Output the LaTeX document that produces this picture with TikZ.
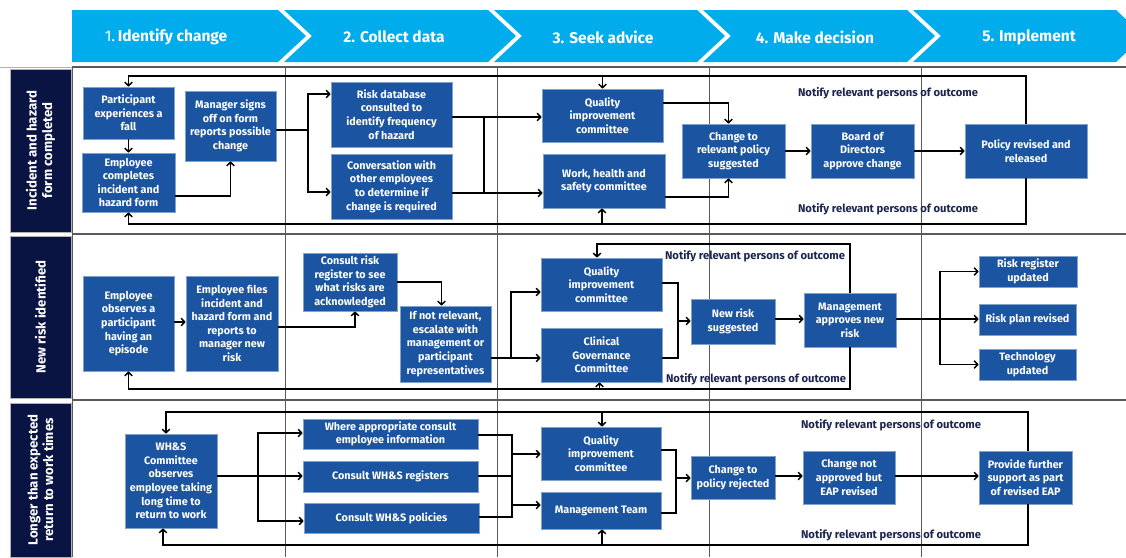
\documentclass[tikz,border=0pt]{standalone}
\usepackage{fontspec}
\setmainfont{Fira Sans}
\usetikzlibrary{arrows.meta}

\definecolor{hdrcyan}{RGB}{0,172,236}
\definecolor{lanenavy}{RGB}{10,20,66}
\definecolor{boxblue}{RGB}{27,84,160}
\definecolor{notecol}{RGB}{28,36,80}
\definecolor{gridgray}{RGB}{90,90,90}

\tikzset{
  proc/.style 2 args={fill=boxblue, draw=boxblue!55!white, line width=0.6pt,
    text=white, align=center, inner sep=1pt,
    font=\bfseries\fontsize{10.8}{13.6}\selectfont,
    minimum width=#1, minimum height=#2},
  note/.style={text=notecol, font=\bfseries\fontsize{11.2}{13}\selectfont, inner sep=0pt},
  hdrtext/.style={text=white, font=\bfseries\fontsize{15.5}{17}\selectfont, inner sep=0pt},
  lanebox/.style={fill=lanenavy, draw=gray!60, line width=0.6pt, text=white, rotate=90,
    align=center, font=\bfseries\fontsize{13.2}{15.5}\selectfont, minimum height=61pt},
  link/.style={line width=1.5pt, black},
  arr/.style={link, -{Straight Barb[length=3.5pt,width=7.5pt]}},
  gridline/.style={gridgray, line width=0.8pt},
  lanesep/.style={gridgray, line width=1.6pt},
}

\begin{document}
\begin{tikzpicture}[x=1pt,y=-1pt]
\useasboundingbox (0,0) rectangle (1126,557);

% ---------- phase chevrons ----------
\begin{scope}
\clip (0,0) rectangle (1126,557);
\fill[hdrcyan] (72,10) -- (278,10) -- (306,36) -- (278,62) -- (72,62) -- cycle;
\fill[hdrcyan] (284,10) -- (488,10) -- (516,36) -- (488,62) -- (284,62) -- (312,36) -- cycle;
\fill[hdrcyan] (494,10) -- (697,10) -- (725,36) -- (697,62) -- (494,62) -- (522,36) -- cycle;
\fill[hdrcyan] (703,10) -- (907,10) -- (935,36) -- (907,62) -- (703,62) -- (731,36) -- cycle;
\fill[hdrcyan] (913,10) -- (1116,10) -- (1144,36) -- (1116,62) -- (913,62) -- (941,36) -- cycle;
\end{scope}
\node[hdrtext] (ph1) at (166,37) {\mdseries 1.\,\bfseries Identify change};
\node[hdrtext] (ph2) at (394,37) {2. Collect data};
\node[hdrtext] (ph3) at (603,37) {3. Seek advice};
\node[hdrtext] (ph4) at (815,37) {4. Make decision};
\node[hdrtext] (ph5) at (1029,37) {5. Implement};

% ---------- swimlane grid ----------
\draw[gray!60, line width=1pt] (0,67) -- (72,67);
\draw[lanesep] (72,67) -- (1126,67);
\draw[lanesep] (72,234) -- (1126,234);
\draw[lanesep] (72,400) -- (1126,400);
\draw[gridline] (72,67) -- (72,557);
\foreach \cx in {285,497,709,921} \draw[gridline] (\cx,67) -- (\cx,557);

\node[lanebox, minimum width=163pt] (lane1) at (40.5,150.5) {Incident and hazard\\form completed};
\node[lanebox, minimum width=162pt] (lane2) at (40.5,317) {New risk identified};
\node[lanebox, minimum width=154pt] (lane3) at (40.5,480) {Longer than expected\\return to work times};

% ---------- lane 1: incident and hazard form ----------
\node[proc={91pt}{52pt}] (p1) at (128.5,113) {Participant\\experiences a\\fall};
\node[proc={93pt}{59pt}] (e1) at (128.5,182.5) {Employee\\completes\\incident and\\hazard form};
\node[proc={91pt}{70pt}] (m1) at (230.5,126) {Manager signs\\off on form\\reports possible\\change};
\node[proc={121pt}{65pt}] (r1) at (391.5,114.5) {Risk database\\consulted to\\identify frequency\\of hazard};
\node[proc={121pt}{65pt}] (c1) at (391.5,186.5) {Conversation with\\other employees\\to determine if\\change is required};
\node[proc={121pt}{53pt}] (q1) at (602.5,115.5) {Quality\\improvement\\committee};
\node[proc={122pt}{54pt}] (w1) at (604,181) {Work, health and\\safety committee};
\node[proc={103pt}{54pt}] (s1) at (733.5,151) {Change to\\relevant policy\\suggested};
\node[proc={103pt}{54pt}] (b1) at (862.5,151) {Board of\\Directors\\approve change};
\node[proc={122pt}{54pt}] (pr1) at (1026,151) {Policy revised and\\released};
\node[note] (n1a) at (888,93) {Notify relevant persons of outcome};
\node[note] (n1b) at (888,209) {Notify relevant persons of outcome};

\coordinate (j1) at (308,130);
\draw[arr] (p1) -- (e1);
\draw[arr] (e1.east |- 0,196) -| (m1.south);
\draw[link] (m1.east |- 0,130) -- (j1);
\draw[arr] (j1) |- (r1.west |- 0,94);
\draw[arr] (j1) |- (c1.west |- 0,192);
\draw[arr] (r1.east |- 0,117) -- (q1.west |- 0,117);
\draw[arr] (c1.east |- 0,193) -- (w1.west |- 0,193);
\draw[link] (484,117) -- (484,193);
\draw[arr] (q1.east |- 0,103) -| ([xshift=-5pt]s1.north);
\draw[arr] (w1.east |- 0,197) -| ([xshift=-5pt]s1.south);
\draw[arr] (s1) -- (b1);
\draw[arr] (b1) -- (pr1);
\draw[arr] (pr1.north) |- (p1.north |- 0,76) -- (p1.north);
\draw[arr] (q1.north |- 0,76) -- (q1.north);
\draw[arr] (pr1.south) |- (e1.south |- 0,224) -- (e1.south);
\draw[arr] ([xshift=-2pt]w1.south |- 0,224) -- ([xshift=-2pt]w1.south);

% ---------- lane 2: new risk ----------
\node[proc={91pt}{95pt}] (o2) at (128.5,323.5) {Employee\\observes a\\participant\\having an\\episode};
\node[proc={92pt}{95pt}] (f2) at (232,323.5) {Employee files\\incident and\\hazard form and\\reports to\\manager new\\risk};
\node[proc={94pt}{58pt}] (k2) at (350,282) {Consult risk\\register to see\\what risks are\\acknowledged};
\node[proc={91pt}{76pt}] (i2) at (445.5,344) {If not relevant,\\escalate with\\management or\\participant\\representatives};
\node[proc={121pt}{53pt}] (q2) at (601.5,284.5) {Quality\\improvement\\committee};
\node[proc={121pt}{54pt}] (g2) at (601.5,355) {Clinical\\Governance\\Committee};
\node[proc={84pt}{45pt}] (n2) at (733,321.5) {New risk\\suggested};
\node[proc={92pt}{54pt}] (a2) at (850,320) {Management\\approves new\\risk};
\node[proc={98pt}{31pt}] (rr2) at (1028,271.5) {Risk register\\updated};
\node[proc={97pt}{31pt}] (rp2) at (1027.5,319.5) {Risk plan revised};
\node[proc={97pt}{31pt}] (t2) at (1027.5,364.5) {Technology\\updated};
\node[note] (n2a) at (755,256) {Notify relevant persons of outcome};
\node[note] (n2b) at (756,379) {Notify relevant persons of outcome};

\coordinate (j2) at (511,358);
\coordinate (j3) at (678,321);
\coordinate (j4) at (940,319);
\draw[arr] (o2.east |- 0,322) -- (f2.west |- 0,322);
\draw[arr] (f2.east |- 0,327) -| ([xshift=5pt]k2.south);
\draw[arr] (k2.east |- 0,282) -| ([xshift=-4pt]i2.north);
\draw[link] (i2.east |- 0,358) -- (j2);
\draw[arr] (j2) -- (g2.west |- 0,358);
\draw[arr] (j2) |- (q2.west |- 0,292);
\draw[link] (q2.east |- 0,283) -| (678,358) -- (g2.east |- 0,358);
\draw[arr] (j3) -- (n2.west |- j3);
\draw[arr] (n2.east |- 0,319) -- (a2.west |- 0,319);
\draw[link] (a2.east |- j4) -- (j4);
\draw[arr] (j4) -- (rp2.west |- j4);
\draw[arr] (j4) |- (rr2.west);
\draw[arr] (j4) |- (t2.west);
\draw[arr] (a2.north) |- ([xshift=-4.5pt]q2.north |- 0,244) -- ([xshift=-4.5pt]q2.north);
\draw[arr] (a2.south) |- (o2.south |- 0,389) -- (o2.south);
\draw[arr] ([xshift=-2pt]g2.south |- 0,389) -- ([xshift=-2pt]g2.south);

% ---------- lane 3: return to work ----------
\node[proc={92pt}{94pt}] (h3) at (171,481) {WH\&S\\Committee\\observes\\employee taking\\long time to\\return to work};
\node[proc={175pt}{30pt}] (wa3) at (390.5,434) {Where appropriate consult\\employee information};
\node[proc={175pt}{31pt}] (cr3) at (390.5,476.5) {Consult WH\&S registers};
\node[proc={175pt}{30pt}] (cp3) at (391.5,518) {Consult WH\&S policies};
\node[proc={120pt}{53pt}] (q3) at (601,453.5) {Quality\\improvement\\committee};
\node[proc={120pt}{37pt}] (mt3) at (601,510.5) {Management Team};
\node[proc={84pt}{43pt}] (cx3) at (733,477.5) {Change to\\policy rejected};
\node[proc={92pt}{53pt}] (na3) at (849,477.5) {Change not\\approved but\\EAP revised};
\node[proc={93pt}{53pt}] (ps3) at (1025.5,477.5) {Provide further\\support as part\\of revised EAP};
\node[note] (n3a) at (891,425) {Notify relevant persons of outcome};
\node[note] (n3b) at (891,535) {Notify relevant persons of outcome};

\coordinate (j5) at (258,476);
\coordinate (j6) at (676,478);
\draw[arr] (h3.east |- j5) -- (cr3.west |- j5);
\draw[arr] (258,476) |- (wa3.west |- 0,433);
\draw[arr] (258,476) |- (cp3.west |- 0,521);
\draw[link] (wa3.east |- 0,435) -- (512,435) -- (512,517) -- (cp3.east |- 0,517);
\draw[link] (cr3.east |- 0,476) -- (512,476);
\draw[arr] (512,454) -- (q3.west |- 0,454);
\draw[arr] (512,505) -- (mt3.west |- 0,505);
\draw[link] (q3.east |- 0,450) -| (676,513) -- (mt3.east |- 0,513);
\draw[arr] (j6) -- (cx3.west |- j6);
\draw[arr] (cx3.east |- 0,476) -- (na3.west |- 0,476);
\draw[arr] (na3.east |- 0,476) -- (ps3.west |- 0,476);
\draw[arr] ([xshift=2.5pt]ps3.north) |- ([xshift=-5pt]h3.north |- 0,412) -- ([xshift=-5pt]h3.north);
\draw[arr] ([xshift=1pt]q3.north |- 0,412) -- ([xshift=1pt]q3.north);
\draw[arr] ([xshift=2.5pt]ps3.south) |- ([xshift=-8pt]h3.south |- 0,545) -- ([xshift=-8pt]h3.south);
\draw[arr] ([xshift=1pt]mt3.south |- 0,545) -- ([xshift=1pt]mt3.south);
\end{tikzpicture}
\end{document}
